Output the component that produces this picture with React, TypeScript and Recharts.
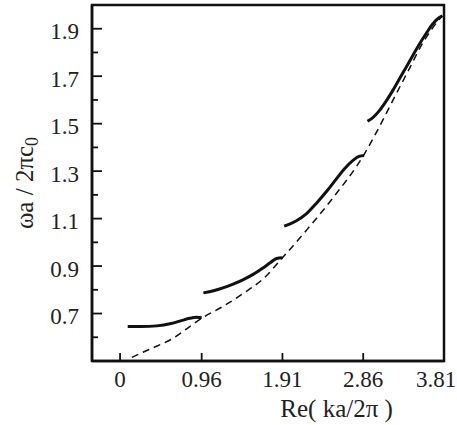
import React from 'react';
import { LineChart, Line, XAxis, YAxis, ReferenceArea } from 'recharts';

const seg1X = [0.09, 0.25, 0.43, 0.6, 0.72, 0.82, 0.9, 0.96];
const seg1Y = [0.645, 0.645, 0.648, 0.658, 0.67, 0.68, 0.684, 0.682];

const seg2X = [0.98, 1.1, 1.21, 1.33, 1.45, 1.57, 1.68, 1.77, 1.84, 1.91];
const seg2Y = [0.787, 0.796, 0.808, 0.824, 0.843, 0.866, 0.892, 0.915, 0.932, 0.935];

const seg3X = [1.93, 2.0, 2.07, 2.19, 2.31, 2.43, 2.54, 2.64, 2.74, 2.81, 2.87];
const seg3Y = [1.068, 1.078, 1.09, 1.12, 1.165, 1.215, 1.265, 1.31, 1.345, 1.362, 1.366];

const seg4X = [2.91, 2.98, 3.05, 3.12, 3.2, 3.28, 3.36, 3.44, 3.52, 3.6, 3.67, 3.74, 3.79];
const seg4Y = [1.51, 1.528, 1.555, 1.59, 1.635, 1.685, 1.735, 1.785, 1.835, 1.88, 1.917, 1.943, 1.955];

const dashX = [0.14, 0.27, 0.43, 0.62, 0.82, 0.96, 1.21, 1.45, 1.68, 1.91, 2.19, 2.51, 2.87, 3.01, 3.24, 3.4, 3.56, 3.67, 3.79];
const dashY = [0.515, 0.537, 0.562, 0.595, 0.645, 0.68, 0.73, 0.785, 0.845, 0.935, 1.05, 1.19, 1.37, 1.46, 1.62, 1.73, 1.84, 1.9, 1.955];

const xTicks = [0, 0.96, 1.91, 2.86, 3.81];
const xTickLabels = ['0', '0.96', '1.91', '2.86', '3.81'];
const yMajorTicks = [0.7, 0.9, 1.1, 1.3, 1.5, 1.7, 1.9];
const yMajorLabels = ['0.7', '0.9', '1.1', '1.3', '1.5', '1.7', '1.9'];
const yMinorTicks = [0.6, 0.8, 1.0, 1.2, 1.4, 1.6, 1.8];

const xDomain = [-0.33, 3.81];
const yDomain = [0.5, 2.0];

const toPts = (xs: number[], ys: number[]) => xs.map((x, i) => ({ x, y: ys[i] }));
const seg1 = toPts(seg1X, seg1Y);
const seg2 = toPts(seg2X, seg2Y);
const seg3 = toPts(seg3X, seg3Y);
const seg4 = toPts(seg4X, seg4Y);
const dash = toPts(dashX, dashY);

const INK = '#111';
const txtStyle = { fontFamily: "'Liberation Serif'" };

const XTick = (props: any) => {
  const { x, y, payload, index } = props;
  const idx = xTicks.indexOf(payload.value);
  const label = idx >= 0 ? xTickLabels[idx] : '';
  const isLast = index === xTicks.length - 1;
  return (
    <g>
      <line x1={x} x2={x} y1={y} y2={y - 8} stroke={INK} strokeWidth={1.8} />
      <text x={isLast ? x - 8 : x} y={y + 26} textAnchor="middle" style={txtStyle} fontSize={23} fill="#222">
        {label}
      </text>
    </g>
  );
};

const YTick = (props: any) => {
  const { x, y, payload } = props;
  const v = Math.round(payload.value * 10) / 10;
  const idx = yMajorTicks.findIndex((t) => Math.abs(t - v) < 1e-6);
  const major = idx >= 0;
  return (
    <g>
      <line x1={x} x2={x + (major ? 10 : 6)} y1={y} y2={y} stroke={INK} strokeWidth={1.8} />
      {major && (
        <text x={x - 13} y={y + 10.5} textAnchor="end" style={txtStyle} fontSize={23} fill="#222">
          {yMajorLabels[idx]}
        </text>
      )}
    </g>
  );
};

const XTitle = (props: any) => {
  const vb = props.viewBox || { x: 92, y: 361, width: 352, height: 64 };
  return (
    <text x={vb.x + vb.width * 0.695} y={vb.y + 56} textAnchor="middle" style={txtStyle} fontSize={25} fill="#222">
      Re( ka/2π )
    </text>
  );
};

const YTitle = (props: any) => {
  const vb = props.viewBox || { x: 0, y: 5, width: 92, height: 356 };
  const cx = vb.x + 33;
  const cy = vb.y + vb.height / 2;
  return (
    <text transform={`translate(${cx},${cy}) rotate(-90)`} textAnchor="middle" style={txtStyle} fontSize={25} fill="#222">
      ωa / 2πc<tspan fontSize={18} dy={5}>0</tspan>
    </text>
  );
};

export default function App() {
  const yTicks = [...yMinorTicks, ...yMajorTicks].sort((a, b) => a - b);
  return (
    <div style={{ width: 457, height: 425, background: '#fff' }}>
      <style>{'body{margin:0;background:#fff;}'}</style>
      <LineChart width={457} height={425} margin={{ top: 5, right: 13, left: 0, bottom: 0 }}>
        <XAxis
          type="number"
          dataKey="x"
          domain={xDomain}
          ticks={xTicks}
          interval={0}
          allowDataOverflow
          height={64}
          tickSize={0}
          tickMargin={0}
          tickLine={false}
          axisLine={{ stroke: INK, strokeWidth: 2.5 }}
          tick={<XTick />}
          label={<XTitle />}
        />
        <YAxis
          type="number"
          dataKey="y"
          domain={yDomain}
          ticks={yTicks}
          interval={0}
          allowDataOverflow
          width={92}
          tickSize={0}
          tickMargin={0}
          tickLine={false}
          axisLine={{ stroke: INK, strokeWidth: 2.5 }}
          tick={<YTick />}
          label={<YTitle />}
        />
        <ReferenceArea
          x1={xDomain[0]}
          x2={xDomain[1]}
          y1={yDomain[0]}
          y2={yDomain[1]}
          fill="none"
          stroke={INK}
          strokeWidth={2.5}
          ifOverflow="visible"
        />
        <Line data={dash} dataKey="y" type="monotone" stroke={INK} strokeWidth={1.5} strokeDasharray="7 5" dot={false} isAnimationActive={false} />
        <Line data={seg1} dataKey="y" type="monotone" stroke={INK} strokeWidth={3} dot={false} isAnimationActive={false} />
        <Line data={seg2} dataKey="y" type="monotone" stroke={INK} strokeWidth={3} dot={false} isAnimationActive={false} />
        <Line data={seg3} dataKey="y" type="monotone" stroke={INK} strokeWidth={3} dot={false} isAnimationActive={false} />
        <Line data={seg4} dataKey="y" type="monotone" stroke={INK} strokeWidth={3} dot={false} isAnimationActive={false} />
      </LineChart>
    </div>
  );
}
